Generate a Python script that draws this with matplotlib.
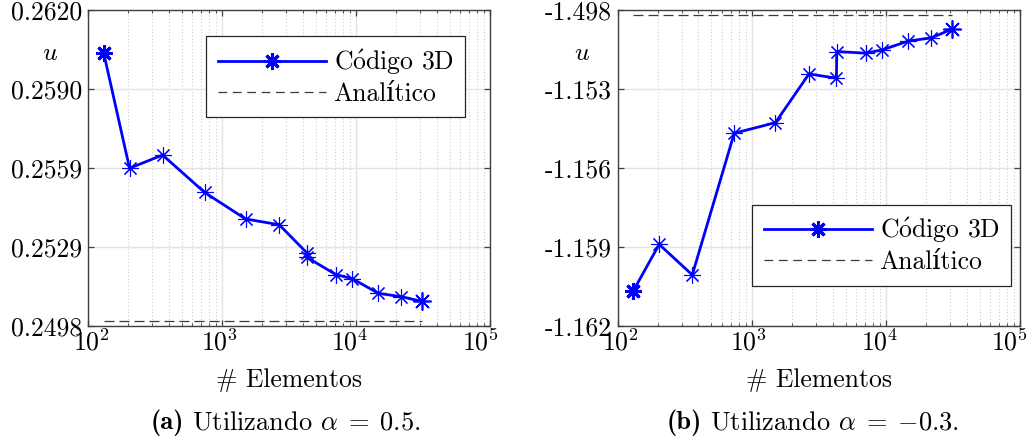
import matplotlib
matplotlib.use("Agg")
import matplotlib.pyplot as plt
from matplotlib.lines import Line2D
from matplotlib.offsetbox import TextArea, HPacker, AnnotationBbox
from matplotlib.transforms import ScaledTranslation
from matplotlib.ticker import FixedLocator, FixedFormatter, LogLocator, NullFormatter

plt.rcParams['font.family'] = ['cmr10', 'DejaVu Serif']
plt.rcParams['mathtext.fontset'] = 'cm'
plt.rcParams['axes.unicode_minus'] = False
plt.rcParams['axes.formatter.use_mathtext'] = True

# Dados
elementos = [131, 204, 360, 740, 1500, 2670, 4280, 4300, 7100, 9350, 14700, 21800, 31000]

u_a = [0.26036, 0.25592, 0.25643, 0.25499, 0.25396, 0.25374, 0.25266,
       0.25248, 0.25181, 0.25166, 0.25109, 0.25096, 0.25078]
u_a_analitico = 0.25003
yticks_a = [0.24983, 0.25288, 0.25593, 0.25898, 0.26203]
ylabels_a = ["0.2498", "0.2529", "0.2559", "0.2590", "0.2620"]

u_b = [-1.16066, -1.15890, -1.16006, -1.15468, -1.15428, -1.15243, -1.15259,
       -1.15158, -1.15164, -1.15152, -1.15118, -1.15106, -1.15073]
u_b_analitico = -1.15019
yticks_b = [-1.162, -1.159, -1.156, -1.153, -1.150]
ylabels_b = ["-1.162", "-1.159", "-1.156", "-1.153", "-1.498"]

xticks = [1e2, 1e3, 1e4, 1e5]
legendas = [r"C$\acute{\mathrm{o}}$digo 3D", "Analítico"]
subfig_letras = ["(a)", "(b)"]
subfig_textos = [r"Utilizando $\alpha\;=\;0.5$.", r"Utilizando $\alpha\;=\;{-}0.3$."]

fs = 18.5
asterisco = (8, 2, 0)
cor_an = '#3a3a3a'

fig = plt.figure(figsize=(10.31, 4.41), dpi=100)
ax_a = fig.add_axes([0.0854, 0.2608, 0.3899, 0.7166])
ax_b = fig.add_axes([0.5991, 0.2608, 0.3902, 0.7166])

configs = [
    (ax_a, u_a, u_a_analitico, yticks_a, ylabels_a, (0.938, 0.918), 'upper right', -0.095),
    (ax_b, u_b, u_b_analitico, yticks_b, ylabels_b, (0.978, 0.127), 'lower right', -0.089),
]

for ax, u, u_an, yt, yl, anchor, loc, ux in configs:
    ax.plot(elementos, u, color=(0, 0, 1), lw=2, marker=asterisco, ms=12, mew=0.8, zorder=3)
    ax.plot(elementos[:1], u[:1], ls='none', color=(0, 0, 1), marker=asterisco, ms=12, mew=2.2, zorder=4)
    ax.plot(elementos[-1:], u[-1:], ls='none', color=(0, 0, 1), marker=asterisco, ms=13, mew=1.2, zorder=4)
    ax.plot([elementos[0], elementos[-1]], [u_an, u_an], color=cor_an, lw=0.9, ls=(0, (8, 4)), zorder=2)

    ax.set_xscale('log')
    ax.set_xlim(xticks[0], xticks[-1])
    ax.set_ylim(yt[0], yt[-1])
    ax.yaxis.set_major_locator(FixedLocator(yt))
    ax.yaxis.set_major_formatter(FixedFormatter(yl))
    ax.xaxis.set_major_locator(FixedLocator(xticks))
    ax.xaxis.set_minor_locator(LogLocator(base=10, subs=range(2, 10), numticks=20))
    ax.xaxis.set_minor_formatter(NullFormatter())

    ax.grid(True, which='major', color='#e3e3e3', lw=1.0, ls='-', zorder=0)
    ax.grid(True, which='minor', axis='x', color='#cfcfcf', lw=0.8, ls=(0, (1, 2)), zorder=0)
    ax.set_axisbelow(True)

    ax.tick_params(which='both', direction='in', top=True, right=True, labelsize=fs,
                   color='#404040')
    ax.tick_params(axis='y', pad=4)
    ax.tick_params(axis='x', pad=2)
    ax.tick_params(which='major', length=4, width=0.9)
    ax.tick_params(which='minor', length=2.5, width=0.7)
    for s in ax.spines.values():
        s.set_color('#404040')
        s.set_linewidth(1.0)

    ax.set_xlabel("# Elementos", fontsize=fs, labelpad=9)
    ax.text(ux, 0.864, r"$u$", transform=ax.transAxes, fontsize=fs, ha='center', va='center')

    handles = [Line2D([], [], color=(0, 0, 1), lw=2, marker=asterisco, ms=12, mew=2.2),
               Line2D([], [], color=cor_an, lw=0.9, ls=(0, (7, 4.5)))]
    leg = ax.legend(handles, legendas, loc=loc, bbox_to_anchor=anchor, fontsize=fs,
                    fancybox=False, framealpha=1, edgecolor='#262626', handlelength=4.2,
                    borderpad=0.45, labelspacing=0.2, handletextpad=0.3, borderaxespad=0)
    leg.get_frame().set_linewidth(0.9)

# pequeno deslocamento dos rótulos do eixo x, como no original
fig.canvas.draw()
for ax in (ax_a, ax_b):
    for tick, dx in zip(ax.xaxis.get_major_ticks(), [3, -3, -6, -10]):
        lbl = tick.label1
        lbl.set_transform(lbl.get_transform() + ScaledTranslation(dx / 100, 0, fig.dpi_scale_trans))

# Legendas das subfiguras
for letra, texto, xc in zip(subfig_letras, subfig_textos, [0.277, 0.788]):
    caixa = HPacker(children=[TextArea(letra, textprops=dict(family='cmb10', fontsize=fs + 0.5)),
                              TextArea(texto, textprops=dict(fontsize=fs + 0.5))],
                    pad=0, sep=6, align='baseline')
    ab = AnnotationBbox(caixa, (xc, 0.041), xycoords='figure fraction', frameon=False,
                        box_alignment=(0.5, 0.5), pad=0)
    fig.add_artist(ab)

fig.savefig("out.png", dpi=100)
